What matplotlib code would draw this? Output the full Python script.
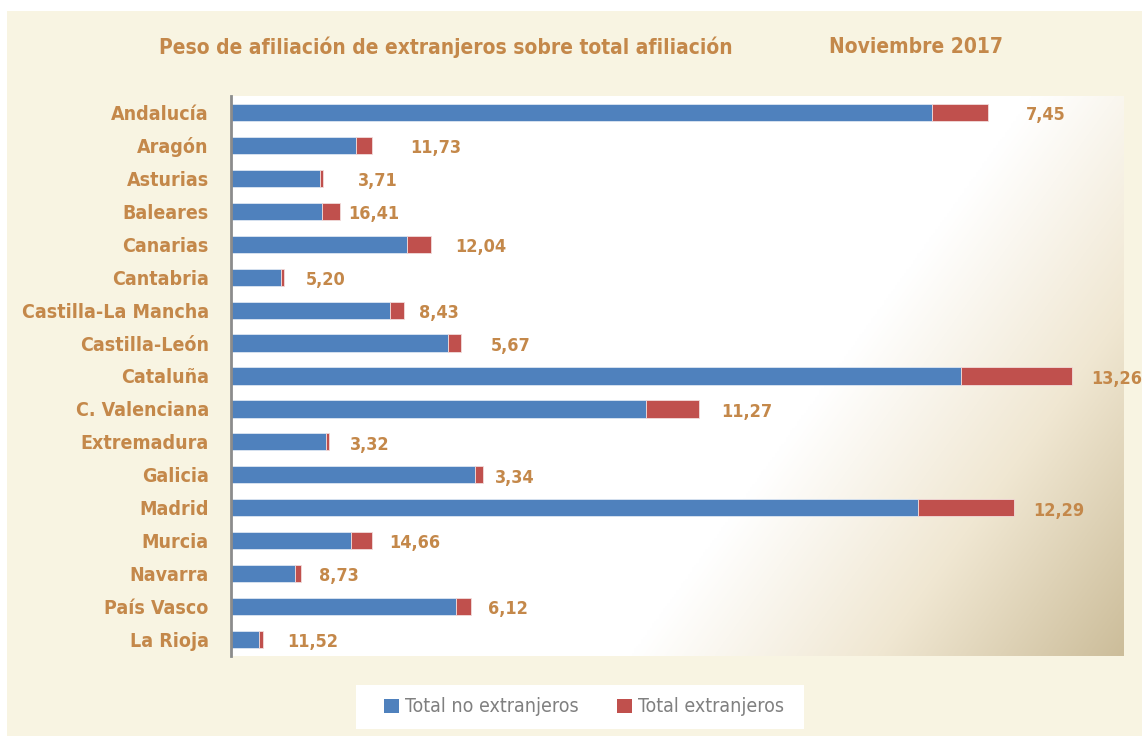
import numpy as np
import matplotlib.pyplot as plt
from matplotlib.patches import Rectangle, Patch

# afiliados en miles y peso de extranjeros (%)
regiones = ["Andalucía", "Aragón", "Asturias", "Baleares", "Canarias", "Cantabria",
            "Castilla-La Mancha", "Castilla-León", "Cataluña", "C. Valenciana",
            "Extremadura", "Galicia", "Madrid", "Murcia", "Navarra", "País Vasco",
            "La Rioja"]
no_extranjeros = [2802, 498, 354, 364, 704, 201, 634, 868, 2918, 1661,
                  379, 974, 2747, 481, 256, 901, 113]
extranjeros = [226, 66, 14, 72, 96, 11, 58, 52, 446, 211,
               13, 34, 385, 83, 24, 59, 15]
peso = [7.45, 11.73, 3.71, 16.41, 12.04, 5.20, 8.43, 5.67, 13.26, 11.27,
        3.32, 3.34, 12.29, 14.66, 8.73, 6.12, 11.52]

# separación de cada etiqueta respecto al final de la barra (px)
label_gap_px = [38, 38, 35, 8, 24, 22, 15, 30, 19, 22, 21, 12, 19, 17, 18, 17, 24]

AZUL = "#4F81BD"
ROJO = "#C0504D"
TEXTO = "#C4884A"
CREMA = "#F8F4E2"

plt.rcParams["font.family"] = ["DejaVu Sans"]
plt.rcParams["font.stretch"] = "condensed"

W, H = 1142, 736
fig = plt.figure(figsize=(W / 100, H / 100), dpi=100, facecolor="white")

# fondo crema con margen blanco arriba e izquierda
fig.patches.append(Rectangle((7 / W, 0), 1, 1 - 11 / H, transform=fig.transFigure,
                             facecolor=CREMA, edgecolor="none", zorder=-10))

ax = fig.add_axes([231 / W, (H - 656) / H, 893 / W, 560 / H])
ax.set_facecolor("white")

# degradado blanco -> crema -> tostado hacia la esquina inferior derecha
nx, ny = 400, 250
xx, yy = np.meshgrid(np.linspace(0, 1, nx), np.linspace(0, 1, ny))
u = xx + 0.45 * yy
t = np.clip((u - 0.90) / (1.45 - 0.90), 0, 1)
stops = np.array([[255, 255, 255], [240, 231, 210], [204, 189, 154]]) / 255
img = np.empty((ny, nx, 3))
for k in range(3):
    img[..., k] = np.interp(t, [0, 0.5, 1], stops[:, k])
ax.imshow(img, extent=[0, 1, 0, 1], transform=ax.transAxes, aspect="auto",
          origin="upper", zorder=0, interpolation="bilinear")

y = np.arange(len(regiones))
ax.barh(y, no_extranjeros, height=0.52, color=AZUL, edgecolor="#dce6f2",
        linewidth=0.6, zorder=2, label="Total no extranjeros")
ax.barh(y, extranjeros, left=no_extranjeros, height=0.52, color=ROJO,
        edgecolor="#f2dcdb", linewidth=0.6, zorder=2, label="Total extranjeros")

for i, (a, b, p) in enumerate(zip(no_extranjeros, extranjeros, peso)):
    ax.annotate(f"{p:.2f}".replace(".", ","), xy=(a + b, i),
                xytext=(label_gap_px[i] * 0.72, -2), textcoords="offset points",
                ha="left", va="center", fontsize=13, fontweight="bold",
                color=TEXTO, zorder=3, annotation_clip=False)

ax.set_xlim(0, 893 * 4)
ax.set_ylim(16.5, -0.5)
ax.set_yticks(y)
ax.set_yticklabels(regiones, fontsize=14, fontweight="bold", color=TEXTO)
ax.tick_params(axis="y", length=0, pad=16)
ax.set_xticks([])
for s in ["top", "right", "bottom"]:
    ax.spines[s].set_visible(False)
ax.spines["left"].set_color("#8c8c8c")
ax.spines["left"].set_linewidth(2)
ax.spines["left"].set_zorder(4)

# títulos
fig.text(159 / W, 1 - 47 / H, "Peso de afiliación de extranjeros sobre total afiliación",
         ha="left", va="center", fontsize=15, fontweight="bold", color=TEXTO)
fig.text(829 / W, 1 - 47 / H, "Noviembre 2017", ha="left", va="center",
         fontsize=15, fontweight="bold", color=TEXTO)

# leyenda en caja blanca
fig.patches.append(Rectangle((356 / W, (H - 729) / H), 448 / W, 44 / H,
                             transform=fig.transFigure, facecolor="white",
                             edgecolor="none", zorder=-5))
handles = [Patch(facecolor=AZUL, label="Total no extranjeros"),
           Patch(facecolor=ROJO, label="Total extranjeros")]
leg = fig.legend(handles=handles, loc="center", bbox_to_anchor=(584 / W, (H - 707) / H),
                 ncol=2, frameon=False, fontsize=14, handlelength=0.75,
                 handleheight=0.75, handletextpad=0.3, columnspacing=2.0)
for txt in leg.get_texts():
    txt.set_color("#808080")

fig.savefig("out.png", dpi=100, facecolor=fig.get_facecolor())
